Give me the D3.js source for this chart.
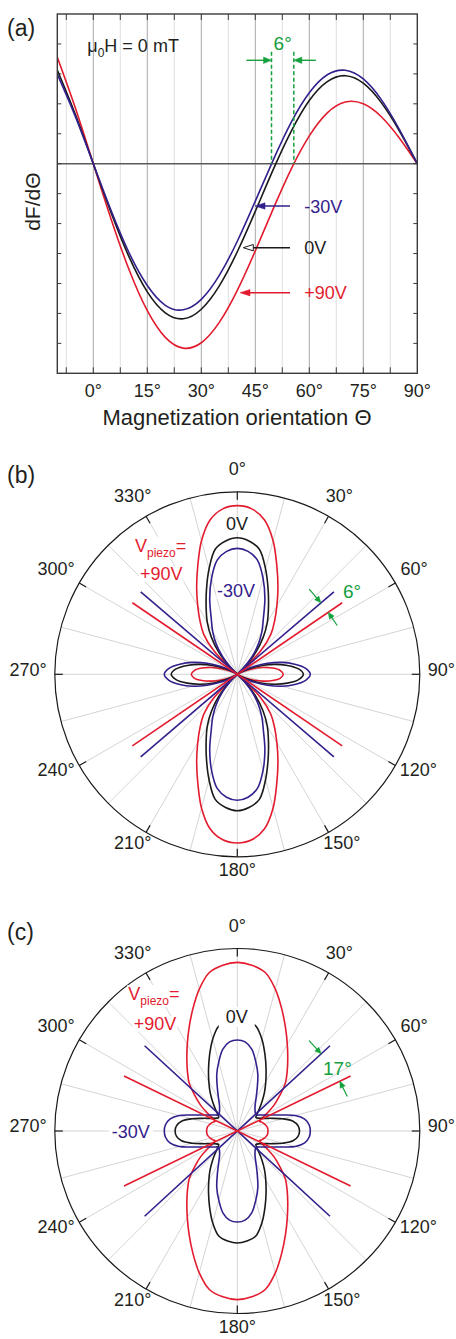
<!DOCTYPE html>
<html>
<head>
<meta charset="utf-8">
<script src="https://cdn.jsdelivr.net/npm/d3@7"></script>
<style>
  body { margin: 0; background: #fff; }
  svg text { font-family: "Liberation Sans", Arial, sans-serif; }
</style>
</head>
<body>
<div id="fig"></div>
<script>
// ---- panel (a): dF/dTheta vs magnetization orientation
const thetaDeg = [-10, -5, 0, 5, 10, 15, 20, 25, 30, 35, 40, 45, 50, 55, 60, 65, 70, 75, 80, 85, 90];
const dFm30 = [2.99, 1.58, 0, -1.58, -2.99, -4.07, -4.73, -4.88, -4.53, -3.73, -2.59, -1.25, 0.13, 1.39, 2.37, 2.97, 3.12, 2.83, 2.14, 1.15, 0];
const dF0   = [3.13, 1.65, 0, -1.65, -3.13, -4.28, -4.98, -5.18, -4.86, -4.08, -2.94, -1.59, -0.19, 1.09, 2.11, 2.74, 2.94, 2.69, 2.04, 1.10, 0];
const dFp90 = [3.56, 1.87, 0, -1.87, -3.56, -4.91, -5.80, -6.16, -5.98, -5.30, -4.23, -2.91, -1.50, -0.17, 0.93, 1.70, 2.06, 2.00, 1.57, 0.86, 0];
const xTicks = [0, 15, 30, 45, 60, 75, 90];
const zeroCrossA = [49.5, 55.7];   // -30V, +90V
const legendLabels = ['-30V', '0V', '+90V'];

// ---- panel (b): polar, first quadrant (mirrored), radius in % of outer ring
const phiB = [0, 5, 10, 15, 20, 25, 30, 35, 40, 45, 50, 55, 60, 65, 70, 75, 80, 85, 90];
const rBm30 = [69.0, 67.6, 63.5, 54.5, 44.2, 33.8, 26.9, 20.0, 12.4, 3.5, 0, 1.2, 4.8, 10.4, 17.6, 25.2, 32.0, 37.6, 40.0];
const rB0   = [74.8, 73.3, 69.6, 59.8, 49.4, 40.4, 32.9, 24.7, 15.7, 5.2, 0, 0.4, 2.5, 7.2, 13.8, 21.0, 27.9, 33.7, 36.2];
const rBp90 = [92.4, 91.0, 85.9, 75.8, 63.3, 52.7, 43.4, 35.6, 28.6, 18.0, 1.5, 0, 1.3, 4.0, 8.6, 14.4, 19.7, 23.7, 25.2];
const easyAxisB = [49.5, 55.7];    // -30V, +90V
const easyLenB = 69.6;

// ---- panel (c)
const phiCm30 = [0, 5, 10, 15, 20, 25, 30, 35, 40, 45, 50, 55, 60, 65, 70, 75, 80, 85, 90];
const rCm30 = [49.9, 49.0, 45.5, 39.2, 32.9, 25.8, 20.5, 17.0, 15.1, 14.0, 13.7, 15.3, 17.5, 20.8, 25.6, 32.9, 37.5, 39.5, 40.0];
const phiC0 = [0, 5, 10, 15, 20, 25, 30, 35, 40, 45, 50, 54, 60, 65, 70, 75, 80, 85, 90];
const rC0   = [61.4, 60.5, 58.4, 52.1, 44.4, 37.3, 31.2, 26.0, 21.1, 17.0, 14.0, 12.6, 14.0, 16.4, 20.3, 25.8, 31.0, 33.4, 34.1];
const phiCp90 = [0, 5, 10, 15, 20, 25, 30, 35, 40, 45, 50, 55, 60, 66.5, 70, 75, 80, 85, 90];
const rCp90 = [92.4, 91.2, 88.2, 80.5, 71.2, 62.5, 54.8, 48.2, 42.5, 37.3, 30.5, 24.5, 18.0, 13.3, 14.2, 15.3, 16.2, 16.7, 16.8];
const easyAxisC = [47.4, 64.1];
const easyLenC = 69.0;

const polarTicks = d3.range(0, 360, 30);
const polarSpokes = d3.range(0, 360, 15);

const W = 456, H = 1339;
const cBlue = '#33208c', cBlack = '#1a1a1a', cRed = '#e31b2e', cGreen = '#14a03c', cText = '#231f20';

const svg = d3.select('#fig').append('svg')
  .attr('width', W)
  .attr('height', H);

// arrow head: filled triangle with tip at (tx,ty) pointing along angle ang (radians)
function arrowHead(g, tx, ty, ang, len, half, color, open) {
  const ux = Math.cos(ang), uy = Math.sin(ang);
  const bx = tx - ux * len, by = ty - uy * len;
  const pts = [[tx, ty], [bx - uy * half, by + ux * half], [bx + uy * half, by - ux * half]];
  g.append('path')
    .attr('d', d3.line()(pts) + 'Z')
    .attr('fill', open ? '#fff' : color)
    .attr('stroke', color)
    .attr('stroke-width', open ? 1 : 0.5);
}

// ================= panel (a) =================
const A = { left: 57.3, right: 417.3, top: 14, bottom: 373.3 };
const x = d3.scaleLinear().domain([-10, 90]).range([A.left, A.right]);
const y = d3.scaleLinear().domain([-7, 5]).range([A.bottom, A.top]);
const gA = svg.append('g');

// grid
gA.selectAll('.minor').data(d3.range(-7.5, 90, 15)).enter().append('line')
  .attr('x1', d => x(d)).attr('x2', d => x(d))
  .attr('y1', A.top).attr('y2', A.bottom)
  .attr('stroke', '#dcdcdc').attr('stroke-width', 0.9);
gA.selectAll('.major').data(xTicks.slice(0, -1)).enter().append('line')
  .attr('x1', d => x(d)).attr('x2', d => x(d))
  .attr('y1', A.top).attr('y2', A.bottom)
  .attr('stroke', '#a8a8a8').attr('stroke-width', 1);

// zero line
gA.append('line')
  .attr('x1', A.left).attr('x2', A.right)
  .attr('y1', y(0)).attr('y2', y(0))
  .attr('stroke', '#5a5a5a').attr('stroke-width', 1.5);

// ticks (inward)
const tickX = d3.range(-7.5, 90, 7.5);
gA.selectAll('.tb').data(tickX).enter().append('line')
  .attr('x1', d => x(d)).attr('x2', d => x(d))
  .attr('y1', A.bottom).attr('y2', A.bottom - 6)
  .attr('stroke', '#3a3a3a').attr('stroke-width', 1);
gA.selectAll('.tt').data(tickX).enter().append('line')
  .attr('x1', d => x(d)).attr('x2', d => x(d))
  .attr('y1', A.top).attr('y2', A.top + 6)
  .attr('stroke', '#3a3a3a').attr('stroke-width', 1);
const tickY = d3.range(-6, 5);
gA.selectAll('.tl').data(tickY).enter().append('line')
  .attr('x1', A.left).attr('x2', A.left + 4)
  .attr('y1', d => y(d)).attr('y2', d => y(d))
  .attr('stroke', '#3a3a3a').attr('stroke-width', 1);
gA.selectAll('.tr').data(tickY).enter().append('line')
  .attr('x1', A.right).attr('x2', A.right - 4)
  .attr('y1', d => y(d)).attr('y2', d => y(d))
  .attr('stroke', '#3a3a3a').attr('stroke-width', 1);

// curves
svg.append('clipPath').attr('id', 'clipA').append('rect')
  .attr('x', A.left).attr('y', A.top)
  .attr('width', A.right - A.left).attr('height', A.bottom - A.top);
const lineA = d3.line().x(d => x(d[0])).y(d => y(d[1])).curve(d3.curveNatural);
const seriesA = [[dFp90, cRed], [dF0, cBlack], [dFm30, cBlue]];
seriesA.forEach(([vals, col]) => {
  gA.append('path')
    .datum(thetaDeg.map((t, i) => [t, vals[i]]))
    .attr('d', lineA)
    .attr('fill', 'none')
    .attr('stroke', col)
    .attr('stroke-width', 1.6)
    .attr('clip-path', 'url(#clipA)');
});

// frame
gA.append('rect')
  .attr('x', A.left).attr('y', A.top)
  .attr('width', A.right - A.left).attr('height', A.bottom - A.top)
  .attr('fill', 'none').attr('stroke', '#3a3a3a').attr('stroke-width', 1.4);

// x tick labels
gA.selectAll('.xl').data(xTicks).enter().append('text')
  .attr('x', d => x(d)).attr('y', 396.7)
  .attr('text-anchor', 'middle').attr('font-size', 18).attr('fill', cText)
  .text(d => d + '°');
gA.append('text')
  .attr('x', 237).attr('y', 425)
  .attr('text-anchor', 'middle').attr('font-size', 22).attr('fill', cText)
  .text('Magnetization orientation Θ');
gA.append('text')
  .attr('transform', 'translate(40,201.7) rotate(-90)')
  .attr('text-anchor', 'middle').attr('font-size', 21).attr('fill', cText)
  .text('dF/dΘ');
gA.append('text').attr('x', 7).attr('y', 36).attr('font-size', 23).attr('fill', cText).text('(a)');

const mu = gA.append('text').attr('x', 87.3).attr('y', 51.5).attr('font-size', 18).attr('fill', cText);
mu.append('tspan').text('μ');
mu.append('tspan').attr('font-size', 12).attr('dy', 5).text('0');
mu.append('tspan').attr('dy', -5).text('H = 0 mT');

// 6° shift annotation
zeroCrossA.forEach(t => {
  gA.append('line')
    .attr('x1', x(t)).attr('x2', x(t))
    .attr('y1', 51.7).attr('y2', y(0))
    .attr('stroke', cGreen).attr('stroke-width', 1.5).attr('stroke-dasharray', '4,2.5');
});
const xl = x(zeroCrossA[0]), xr = x(zeroCrossA[1]);
gA.append('line').attr('x1', xl - 25).attr('x2', xl - 5).attr('y1', 60.3).attr('y2', 60.3)
  .attr('stroke', cGreen).attr('stroke-width', 1.4);
arrowHead(gA, xl, 60.3, 0, 8, 3.2, cGreen);
gA.append('line').attr('x1', xr + 22).attr('x2', xr + 5).attr('y1', 60.3).attr('y2', 60.3)
  .attr('stroke', cGreen).attr('stroke-width', 1.4);
arrowHead(gA, xr, 60.3, Math.PI, 8, 3.2, cGreen);
gA.append('text').attr('x', (xl + xr) / 2).attr('y', 50).attr('text-anchor', 'middle')
  .attr('font-size', 19).attr('fill', cGreen).text('6°');

// legend arrows
const legY = [206, 247.7, 292.7];
const legTip = [255, 243.3, 240];
const legCol = [cBlue, cBlack, cRed];
legendLabels.forEach((lab, i) => {
  gA.append('line').attr('x1', 290).attr('x2', legTip[i] + 8).attr('y1', legY[i]).attr('y2', legY[i])
    .attr('stroke', legCol[i]).attr('stroke-width', 1.5);
  arrowHead(gA, legTip[i], legY[i], Math.PI, 10, 3.2, legCol[i], i === 1);
  gA.append('text').attr('x', 304.3).attr('y', legY[i] + 6.5)
    .attr('font-size', 18).attr('fill', legCol[i]).text(lab);
});

// ================= polar panels =================
function fullTurn(phi, r) {
  const q = phi.map((p, i) => [p, r[i]]);
  const pts = [];
  q.forEach(d => pts.push([d[0], d[1]]));
  q.slice(0, -1).reverse().forEach(d => pts.push([180 - d[0], d[1]]));
  q.slice(1).forEach(d => pts.push([180 + d[0], d[1]]));
  q.slice(1, -1).reverse().forEach(d => pts.push([360 - d[0], d[1]]));
  return pts;
}

function textWithBg(g, sel, padX, padY) {
  const b = sel.node().getBBox();
  g.insert('rect', () => sel.node())
    .attr('x', b.x - padX).attr('y', b.y - padY)
    .attr('width', b.width + 2 * padX).attr('height', b.height + 2 * padY)
    .attr('fill', '#fff');
}

function drawPolar(cx, cy, series, easyAxes, easyLen, letter) {
  const g = svg.append('g');
  const rs = d3.scaleLinear().domain([0, 100]).range([0, 182.5]);
  const R = rs(100);
  const pt = (a, r) => {
    const t = a * Math.PI / 180;
    return [cx + rs(r) * Math.sin(t), cy - rs(r) * Math.cos(t)];
  };

  g.selectAll('.spoke').data(polarSpokes).enter().append('line')
    .attr('x1', cx).attr('y1', cy)
    .attr('x2', d => pt(d, 100)[0]).attr('y2', d => pt(d, 100)[1])
    .attr('stroke', '#cfcfcf').attr('stroke-width', 0.9);
  g.append('circle').attr('cx', cx).attr('cy', cy).attr('r', R)
    .attr('fill', 'none').attr('stroke', '#1a1a1a').attr('stroke-width', 1.2);
  g.selectAll('.ptick').data(polarTicks).enter().append('line')
    .attr('x1', d => pt(d, 100)[0]).attr('y1', d => pt(d, 100)[1])
    .attr('x2', d => pt(d, 100 - 8 / 1.825)[0]).attr('y2', d => pt(d, 100 - 8 / 1.825)[1])
    .attr('stroke', '#1a1a1a').attr('stroke-width', 1.2);

  polarTicks.forEach(a => {
    const t = g.append('text').attr('font-size', 18).attr('text-anchor', 'middle')
      .attr('fill', cText).text(a + '°');
    const w = t.node().getComputedTextLength();
    const rad = a * Math.PI / 180;
    const lx = cx + Math.sin(rad) * (R + 8 + w / 2);
    const ly = cy - Math.cos(rad) * (R + 18) - 5;
    t.attr('x', lx).attr('y', ly + 6.4);
  });

  const radial = d3.lineRadial()
    .angle(d => d[0] * Math.PI / 180)
    .radius(d => rs(d[1]))
    .curve(d3.curveCatmullRomClosed.alpha(0.5));
  const gc = g.append('g').attr('transform', `translate(${cx},${cy})`);
  series.forEach(s => {
    gc.append('path')
      .attr('d', radial(fullTurn(s.phi, s.r)))
      .attr('fill', 'none').attr('stroke', s.color).attr('stroke-width', 1.6);
  });

  const eCol = [cBlue, cRed];
  easyAxes.forEach((a, i) => {
    [[a, a + 180], [360 - a, 180 - a]].forEach(([a1, a2]) => {
      const p1 = pt(a1, easyLen), p2 = pt(a2, easyLen);
      g.append('line').attr('x1', p1[0]).attr('y1', p1[1]).attr('x2', p2[0]).attr('y2', p2[1])
        .attr('stroke', eCol[i]).attr('stroke-width', 1.6);
    });
  });

  g.append('text').attr('x', 7).attr('y', cy - 191.3).attr('font-size', 23).attr('fill', cText).text(letter);
  return { g, pt, rs };
}

// angle-difference arrows perpendicular to the easy axes
function perpArrow(g, pt, ang, rUnits, side, len) {
  const tip = pt(ang, rUnits);
  const t = ang * Math.PI / 180;
  const px = Math.cos(t), py = Math.sin(t);
  const tail = [tip[0] - side * len * px, tip[1] - side * len * py];
  g.append('line').attr('x1', tail[0]).attr('y1', tail[1])
    .attr('x2', tip[0] - side * 5 * px).attr('y2', tip[1] - side * 5 * py)
    .attr('stroke', cGreen).attr('stroke-width', 1.2);
  arrowHead(g, tip[0], tip[1], Math.atan2(side * py, side * px), 6.5, 2.8, cGreen);
}

// ---- (b)
const cB = [237.3, 674.3];
const pb = drawPolar(cB[0], cB[1], [
  { phi: phiB, r: rBp90, color: cRed },
  { phi: phiB, r: rB0, color: cBlack },
  { phi: phiB, r: rBm30, color: cBlue }
], easyAxisB, easyLenB, '(b)');
perpArrow(pb.g, pb.pt, easyAxisB[0], 110 / 1.825, 1, 18);
perpArrow(pb.g, pb.pt, easyAxisB[1], 110 / 1.825, -1, 16);
pb.g.append('text').attr('x', 343).attr('y', 598).attr('font-size', 19).attr('fill', cGreen).text('6°');
let t;
t = pb.g.append('text').attr('x', 237).attr('y', 530).attr('text-anchor', 'middle')
  .attr('font-size', 18).attr('fill', cBlack).text('0V');
textWithBg(pb.g, t, 1, -2);
t = pb.g.append('text').attr('x', 236).attr('y', 597).attr('text-anchor', 'middle')
  .attr('font-size', 18).attr('fill', cBlue).text('-30V');
textWithBg(pb.g, t, 0.5, -2);
t = pb.g.append('text').attr('x', 135).attr('y', 551.7).attr('font-size', 18).attr('fill', cRed);
t.append('tspan').text('V');
t.append('tspan').attr('font-size', 12).attr('dy', 5).text('piezo');
t.append('tspan').attr('dy', -5).text('=');
textWithBg(pb.g, t, 1, -1);
t = pb.g.append('text').attr('x', 161.3).attr('y', 580).attr('text-anchor', 'middle')
  .attr('font-size', 18).attr('fill', cRed).text('+90V');
textWithBg(pb.g, t, 1, -2);

// ---- (c)
const cC = [237.3, 1131];
const pc = drawPolar(cC[0], cC[1], [
  { phi: phiCp90, r: rCp90, color: cRed },
  { phi: phiC0, r: rC0, color: cBlack },
  { phi: phiCm30, r: rCm30, color: cBlue }
], easyAxisC, easyLenC, '(c)');
perpArrow(pc.g, pc.pt, easyAxisC[0], 114 / 1.825, 1, 18);
perpArrow(pc.g, pc.pt, easyAxisC[1], 114 / 1.825, -1, 17);
pc.g.append('text').attr('x', 323).attr('y', 1075).attr('font-size', 19).attr('fill', cGreen).text('17°');
t = pc.g.append('text').attr('x', 236.7).attr('y', 1023).attr('text-anchor', 'middle')
  .attr('font-size', 18).attr('fill', cBlack).text('0V');
textWithBg(pc.g, t, 7, 0);
t = pc.g.append('text').attr('x', 111.7).attr('y', 1138).attr('font-size', 18).attr('fill', cBlue).text('-30V');
textWithBg(pc.g, t, 3, -2);
t = pc.g.append('text').attr('x', 128.3).attr('y', 1000).attr('font-size', 18).attr('fill', cRed);
t.append('tspan').text('V');
t.append('tspan').attr('font-size', 12).attr('dy', 5).text('piezo');
t.append('tspan').attr('dy', -5).text('=');
textWithBg(pc.g, t, 1, -1);
t = pc.g.append('text').attr('x', 155).attr('y', 1030).attr('text-anchor', 'middle')
  .attr('font-size', 18).attr('fill', cRed).text('+90V');
textWithBg(pc.g, t, 1, -2);
</script>
</body>
</html>
